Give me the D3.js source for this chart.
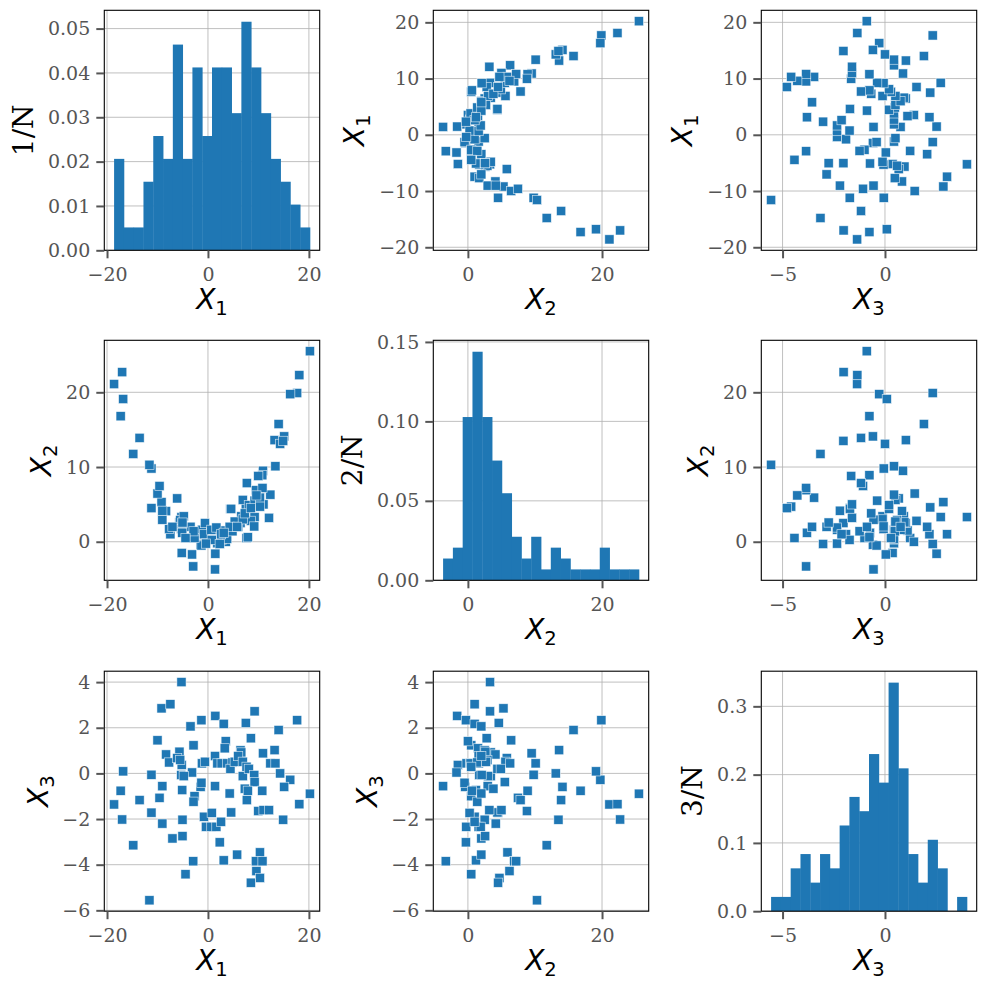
<!DOCTYPE html>
<html>
<head>
<meta charset="utf-8">
<script src="https://cdn.jsdelivr.net/npm/d3@7"></script>
<style>
  body { margin: 0; background: #fff; }
  svg { display: block; }
</style>
</head>
<body>
<svg id="chart" width="985" height="990"></svg>
<script>
// one row per sample: X1, X2, X3
const x1 = [-5.25, -9.2, -7.45, 1.46, -1.3, 3.12, -3.46, 9.24, 7.5, 17.67,
    14.0, -10.0, -2.86, 3.52, 3.32, 8.5, 6.45, 6.6, 10.9, 13.2,
    -8.3, -7.7, -5.65, -6.1, -5.2, -5.5, -5.3, -3.15, -4.8, -1.2,
    -0.6, 1.4, 1.86, 2.7, 3.8, 4.85, 4.45, 5.3, 5.98, 6.9,
    7.64, 6.9, 8.1, 12.36, 13.36, 9.17, 14.3, 9.24, 16.3, 15.1,
    -16.8, -11.2, -17.3, -18.6, -13.55, -9.6, -9.04, -5.1, -1.46, -1.3,
    1.4, -2.66, -2.86, 4.3, 7.3, 7.9, 10.76, 7.7, 20.2, 18.1,
    -17.0, -11.2, -9.04, -5.05, -0.8, 0.75, 4.6, 9.97, 11.0, 12.1,
    14.9, -0.4, 0.66, 1.66, 2.6, 2.33, -14.8, -7.04, -5.05, -2.92,
    -4.45, 3.12, 5.78, 10.3, 9.5, 10.8, 9.6, 10.3, 8.5, -11.6];

const x2 = [3.3, 5.3, 1.0, -1.6, -0.3, 1.0, 2.0, 3.3, 4.6, 19.9,
    15.75, 6.45, 0.5, 0.0, 1.5, 2.8, 2.5, 3.4, 9.5, 13.6,
    4.1, 1.7, 2.6, 5.8, -1.5, 2.9, 1.7, -1.7, 3.4, 1.6,
    2.5, 1.6, -0.2, 0.3, 0.4, 1.4, 4.4, 2.7, 2.0, 5.6,
    0.5, 3.0, 4.9, 6.3, 10.1, 2.05, 13.1, 5.5, 19.75, 14.1,
    19.1, 9.8, 16.8, 21.1, 13.9, 7.46, 2.95, 1.2, -0.4, -0.5,
    -3.7, 0.5, 1.4, 2.0, 3.8, 0.6, 8.9, 7.85, 25.5, 22.3,
    22.7, 4.5, 4.15, 2.5, 1.0, 0.25, 4.4, 8.8, 5.0, 3.2,
    13.5, -0.25, 1.6, 1.9, 1.0, -0.3, 11.75, 2.0, 2.57, -3.3,
    0.5, 1.2, 2.0, 5.9, 6.9, 7.2, 6.2, 4.7, 4.5, 10.3];

const x3 = [4.0, 2.85, 3.03, 2.52, 2.33, 2.17, 2.06, 2.72, 2.21, 2.33,
    1.9, 1.45, 1.23, 1.41, 1.1, 1.54, 1.01, 0.92, 0.88, 1.02,
    0.83, 0.48, 0.95, 0.67, 0.37, 0.59, -0.07, 0.04, -0.12, 0.44,
    0.51, 0.76, 0.44, 0.44, 0.44, 0.48, 0.2, 0.51, 0.76, 0.51,
    0.29, -0.12, 0.2, 0.44, 0.44, -0.07, 0.0, -0.38, -0.28, -0.59,
    0.09, -0.06, -0.76, -1.36, -1.17, -1.07, -0.56, -0.73, -0.59, -0.41,
    -0.56, -1.0, -1.24, -0.88, -0.67, -0.76, -0.76, -1.17, -0.89, -1.35,
    -2.02, -1.72, -2.2, -2.03, -1.9, -1.73, -1.71, -1.65, -1.61, -1.61,
    -2.03, -2.34, -2.34, -2.34, -2.12, -3.02, -3.15, -2.85, -2.75, -3.85,
    -4.42, -3.81, -3.56, -3.46, -3.85, -3.85, -4.28, -4.58, -4.79, -5.56];

const series = [x1, x2, x3];
const varIds = ['1', '2', '3'];

// tick values, per variable
const xTicks = [[-20, 0, 20], [0, 20], [-5, 0]];
const yTicks = [[-20, -10, 0, 10, 20], [0, 10, 20], [-6, -4, -2, 0, 2, 4]];
const histTicks = [[0, 0.01, 0.02, 0.03, 0.04, 0.05], [0, 0.05, 0.10, 0.15], [0, 0.1, 0.2, 0.3]];
const histDecimals = [2, 2, 1];
const nBins = 20;

const colLeft = [104.3, 433.3, 761.3];
const rowTop = [10.3, 340.3, 671.2];
const W = 215.4, H = 240;
const blue = '#1f77b4';
const tickFont = "'DejaVu Serif', serif";
const mathFont = "'DejaVu Sans', sans-serif";

const svg = d3.select('#chart');
const minus = s => s.replace(/-/g, '\u2212');

function padded(arr) {
    const [a, b] = d3.extent(arr);
    const p = (b - a) * 0.05;
    return [a - p, b + p];
}

function histogram(arr) {
    const [lo, hi] = d3.extent(arr);
    const bw = (hi - lo) / nBins;
    const counts = new Array(nBins).fill(0);
    arr.forEach(v => { counts[Math.min(nBins - 1, Math.floor((v - lo) / bw))] += 1; });
    return counts.map((c, k) => ({ x0: lo + k * bw, x1: lo + (k + 1) * bw, d: c / (arr.length * bw) }));
}

function styleAxis(g) {
    g.select('.domain').remove();
    g.selectAll('.tick line').attr('stroke', '#555').attr('stroke-width', 2);
    g.selectAll('.tick text').attr('fill', '#555').attr('font-family', tickFont).attr('font-size', '19px');
}

function mathLabel(sel, id) {
    sel.append('tspan').attr('font-style', 'italic').text('X');
    sel.append('tspan').attr('font-size', '19.6px').attr('dy', '6').text(id);
}

series.forEach((rowVar, i) => {
    series.forEach((colVar, j) => {
        const g = svg.append('g').attr('transform', `translate(${colLeft[j]},${rowTop[i]})`);
        const clipId = `clip-${i}-${j}`;
        g.append('clipPath').attr('id', clipId).append('rect').attr('width', W).attr('height', H);

        let x, y, yTickVals, yFmt, bins = null;
        if (i === j) {
            bins = histogram(colVar);
            x = d3.scaleLinear().domain(padded(colVar)).range([0, W]);
            y = d3.scaleLinear().domain([0, d3.max(bins, b => b.d) * 1.05]).range([H, 0]);
            yTickVals = histTicks[i];
            yFmt = d => d.toFixed(histDecimals[i]);
        } else {
            x = d3.scaleLinear().domain(padded(colVar)).range([0, W]);
            y = d3.scaleLinear().domain(padded(rowVar)).range([H, 0]);
            yTickVals = yTicks[i];
            yFmt = d => minus(String(d));
        }

        // Grid
        const grid = g.append('g');
        grid.selectAll('.gx').data(xTicks[j]).enter().append('line')
            .attr('x1', d => x(d)).attr('x2', d => x(d)).attr('y1', 0).attr('y2', H)
            .attr('stroke', '#b0b0b0').attr('stroke-width', 0.8);
        grid.selectAll('.gy').data(yTickVals).enter().append('line')
            .attr('x1', 0).attr('x2', W).attr('y1', d => y(d)).attr('y2', d => y(d))
            .attr('stroke', '#b0b0b0').attr('stroke-width', 0.8);

        const plot = g.append('g').attr('clip-path', `url(#${clipId})`);
        if (bins) {
            plot.selectAll('rect').data(bins.filter(b => b.d > 0)).enter().append('rect')
                .attr('x', b => x(b.x0))
                .attr('width', b => x(b.x1) - x(b.x0) + 0.4)
                .attr('y', b => y(b.d))
                .attr('height', b => y(0) - y(b.d))
                .attr('fill', blue);
        } else {
            const pts = colVar.map((v, k) => [v, rowVar[k]]);
            plot.selectAll('rect').data(pts).enter().append('rect')
                .attr('x', d => x(d[0]) - 4.6).attr('y', d => y(d[1]) - 4.6)
                .attr('width', 9.2).attr('height', 9.2)
                .attr('fill', blue)
                .attr('stroke', '#fff').attr('stroke-opacity', 0.75).attr('stroke-width', 0.7);
        }

        // Frame
        g.append('rect').attr('width', W).attr('height', H)
            .attr('fill', 'none').attr('stroke', '#000').attr('stroke-width', 1.1);

        // Axes
        g.append('g').attr('transform', `translate(0,${H})`)
            .call(d3.axisBottom(x).tickValues(xTicks[j]).tickSize(8).tickPadding(9).tickFormat(d => minus(String(d))))
            .call(styleAxis);
        const yAxis = g.append('g')
            .call(d3.axisLeft(y).tickValues(yTickVals).tickSize(8).tickPadding(6).tickFormat(yFmt))
            .call(styleAxis);

        // Labels
        const xl = g.append('text').attr('x', W / 2).attr('y', H + 59)
            .attr('text-anchor', 'middle').attr('font-family', mathFont).attr('font-size', '28px').attr('fill', '#000');
        mathLabel(xl, varIds[j]);

        let tickLeft = 0;
        yAxis.selectAll('.tick text').each(function () {
            tickLeft = Math.min(tickLeft, this.getBBox().x);
        });
        const yl = g.append('text')
            .attr('transform', `translate(${tickLeft - 24},${H / 2}) rotate(-90)`)
            .attr('text-anchor', 'middle').attr('dy', '0.33em')
            .attr('font-size', '28px').attr('fill', '#000');
        if (i === j) {
            yl.attr('font-family', tickFont).text(`${varIds[i]}/N`);
        } else {
            yl.attr('font-family', mathFont);
            mathLabel(yl, varIds[i]);
        }
    });
});
</script>
</body>
</html>
